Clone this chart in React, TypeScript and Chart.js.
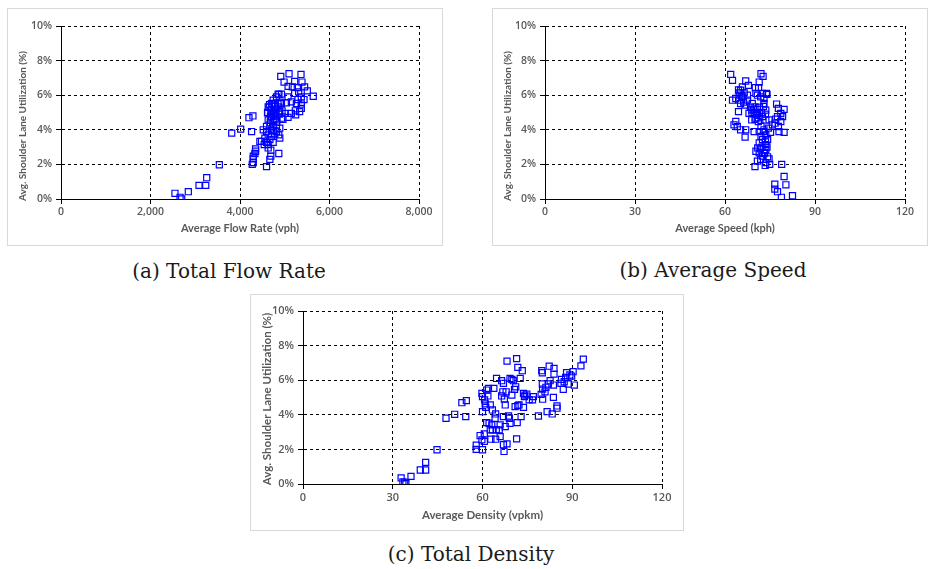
import React, { useEffect, useRef } from "react";
import { Chart, registerables } from "chart.js";

Chart.register(...registerables);

// ---------- data ----------
const utilTicks = [0, 2, 4, 6, 8, 10];

const flowRatePoints: [number, number][] = [
  [2547, 0.33], [2660, 0.1], [2697, 0.0], [2845, 0.42], [3084, 0.79], [3234, 0.79], [3256, 1.23], [3538, 1.98],
  [3815, 3.81], [4015, 4.04], [4259, 3.9], [4200, 4.7], [4289, 4.8],
  [4911, 7.09], [5096, 7.24], [5363, 7.2], [4985, 6.76], [5074, 6.51], [5222, 6.8], [5170, 6.48], [5281, 6.44],
  [5444, 6.48], [5385, 6.76], [5504, 6.25], [5637, 5.94], [5311, 6.19], [5222, 6.1], [4852, 6.06], [4926, 6.06],
  [4815, 5.9], [5074, 5.9], [5370, 5.9], [5296, 5.75], [5148, 5.62], [5037, 5.56], [5430, 5.75], [5370, 5.49],
  [5259, 5.52], [5370, 5.24], [5237, 5.1], [5333, 5.05], [5148, 4.95], [5244, 4.86], [5074, 4.72], [5000, 4.95],
  [4926, 4.67], [4815, 4.57], [4704, 5.52], [4630, 5.33], [4689, 5.14], [4615, 4.99], [4741, 5.71], [4778, 5.43],
  [4852, 5.33], [4926, 5.52], [4889, 5.05], [4778, 4.95], [4704, 4.76], [4630, 4.57], [4741, 4.48], [4667, 4.29],
  [4593, 4.19], [4815, 4.29], [4889, 4.1], [4519, 4.0], [4593, 3.9], [4704, 4.0], [4815, 3.9], [4867, 3.71],
  [4889, 3.52], [4778, 3.77], [4630, 3.71], [4556, 3.52], [4667, 3.43], [4593, 3.27], [4481, 3.33], [4741, 3.27],
  [4630, 3.14], [4444, 3.33], [4348, 2.9], [4348, 2.76], [4333, 2.63], [4296, 2.48], [4296, 2.32], [4274, 2.0],
  [4296, 2.1], [4593, 1.87], [4667, 2.29], [4689, 2.48], [4689, 2.82], [4867, 2.63], [4630, 2.95], [4541, 3.14],
  [4650, 5.3], [4700, 5.1], [4720, 4.9], [4760, 4.6], [4800, 5.2], [4680, 4.4], [4740, 4.2], [4790, 4.8],
  [4660, 5.45], [4850, 5.5], [4880, 4.9], [4900, 5.6], [4720, 5.5], [4620, 5.0], [4680, 4.75], [4760, 5.35],
  [4820, 4.45], [4940, 5.1], [4960, 4.6], [4870, 6.05], [4750, 3.95], [4700, 3.6],
];

const speedPoints: [number, number][] = [
  [61.9, 7.2], [62.5, 6.86], [72.0, 7.24], [72.7, 7.09], [71.4, 6.76], [66.9, 6.82], [67.8, 6.57], [65.8, 6.48],
  [65.2, 6.29], [64.7, 6.13], [66.4, 6.13], [70.3, 6.1], [71.2, 6.44], [70.1, 6.44], [72.5, 6.1], [73.8, 6.1],
  [71.9, 5.9], [63.6, 5.81], [64.7, 5.71], [62.5, 5.71], [65.6, 5.9], [67.5, 5.71], [65.2, 5.52], [66.7, 5.43],
  [64.5, 5.05], [69.1, 5.52], [70.0, 5.33], [70.8, 5.18], [68.9, 5.14], [68.0, 4.95], [69.7, 4.95], [71.4, 4.95],
  [73.0, 5.52], [73.6, 5.14], [72.5, 4.76], [70.3, 4.67], [68.9, 4.57], [71.1, 4.48], [73.6, 4.57], [74.7, 4.57],
  [77.2, 5.49], [77.8, 5.24], [79.7, 5.18], [78.6, 4.95], [77.5, 4.76], [79.2, 4.76], [76.9, 4.61], [76.7, 4.38],
  [78.6, 4.48], [77.8, 4.19], [75.8, 4.29], [63.6, 4.48], [63.0, 4.29], [64.1, 4.19], [65.2, 4.0], [66.9, 4.0],
  [66.7, 3.58], [69.7, 3.9], [71.4, 3.9], [73.0, 4.0], [74.5, 4.1], [75.2, 3.85], [79.7, 3.85], [78.0, 3.9],
  [72.0, 3.62], [73.6, 3.71], [72.5, 3.43], [71.4, 3.24], [74.2, 3.43], [73.6, 3.14], [72.3, 3.0], [70.9, 2.95],
  [73.6, 2.86], [73.0, 2.63], [71.4, 2.67], [70.3, 2.76], [72.5, 2.48], [74.2, 2.44], [71.9, 2.29], [70.8, 2.19],
  [73.6, 2.1], [74.7, 2.32], [73.4, 1.94], [70.0, 1.87], [74.9, 2.0], [78.9, 2.0],
  [79.7, 1.3], [76.6, 0.86], [80.3, 0.82], [76.6, 0.57], [77.5, 0.42], [78.8, 0.1], [82.5, 0.19],
  [69.5, 5.2], [70.5, 4.9], [71.5, 5.3], [72.2, 5.0], [70.0, 4.6], [71.0, 4.7], [68.5, 5.3], [69.0, 5.0],
  [72.8, 5.35], [73.5, 4.9], [67.5, 6.0], [66.0, 5.9], [65.0, 6.0], [64.5, 6.3], [66.2, 5.6], [70.8, 6.0],
  [74.0, 6.05], [73.0, 5.8], [72.0, 4.2], [72.8, 3.9], [73.5, 3.3], [71.8, 2.9], [73.2, 2.7], [74.0, 3.0],
];

const densityPoints: [number, number][] = [
  [32.8, 0.35], [33.4, 0.12], [34.0, 0.1], [34.4, 0.02], [36.1, 0.44], [39.2, 0.81], [41.0, 0.81], [41.0, 1.25],
  [44.8, 1.98], [47.8, 3.8], [50.7, 4.03], [54.4, 3.9], [53.1, 4.7], [54.6, 4.82], [60.0, 1.98], [57.9, 2.25],
  [57.9, 2.0], [59.2, 2.8], [59.8, 2.55], [60.6, 2.46], [60.6, 2.9], [60.0, 4.18], [59.8, 5.24], [60.0, 5.05],
  [60.7, 4.86], [60.9, 4.63], [61.1, 4.43], [61.4, 5.43], [61.8, 5.09], [62.0, 5.53], [62.6, 4.57], [61.4, 3.55],
  [62.2, 3.51], [63.1, 3.42], [63.3, 4.28], [62.8, 2.59], [62.6, 3.13], [63.3, 3.13], [64.2, 3.8], [64.4, 4.05],
  [64.6, 3.13], [63.8, 5.53], [64.7, 6.1], [64.4, 2.59], [65.6, 3.13], [65.9, 2.74], [65.9, 3.42], [66.4, 5.09],
  [66.4, 5.97], [67.0, 5.82], [66.8, 5.33], [67.3, 4.9], [67.6, 4.57], [67.0, 3.9], [67.0, 2.27], [67.2, 1.88],
  [67.6, 3.32], [67.9, 5.33], [68.2, 2.32], [68.2, 7.1], [68.7, 3.93], [69.0, 3.8], [69.2, 3.51], [69.2, 6.1],
  [69.8, 6.05], [70.3, 5.97], [69.8, 5.14], [70.7, 5.47], [70.9, 4.47], [71.1, 5.62], [71.4, 7.25], [71.8, 6.74],
  [71.8, 4.53], [72.2, 4.57], [71.6, 3.55], [71.4, 2.61], [72.6, 6.1], [72.9, 3.9], [73.3, 6.55], [73.7, 5.24],
  [73.7, 4.43], [74.0, 5.05], [74.2, 5.14], [74.8, 5.2], [75.6, 4.86], [76.7, 4.86], [77.0, 5.05], [78.7, 3.93],
  [79.6, 5.18], [79.8, 6.55], [80.0, 5.78], [80.1, 4.9], [80.1, 5.49], [80.9, 5.33], [81.2, 5.59], [81.6, 4.18],
  [82.0, 5.78], [82.3, 6.81], [82.6, 5.97], [83.3, 4.05], [83.7, 5.72], [83.7, 5.01], [83.9, 6.68], [83.9, 6.35],
  [84.9, 4.38], [84.9, 4.51], [86.2, 5.82], [86.4, 6.05], [87.0, 5.47], [87.3, 5.91], [87.8, 6.16], [88.1, 6.43],
  [88.7, 5.78], [89.2, 6.3], [89.8, 6.24], [90.3, 6.49], [90.7, 5.72], [92.9, 6.83], [93.7, 7.22], [80.0, 6.43],
];

const flowTicks = [0, 2000, 4000, 6000, 8000];
const speedTicks = [0, 30, 60, 90, 120];
const densityTicks = [0, 30, 60, 90, 120];

const yTitleText = "Avg. Shoulder Lane Utilization (%)";

// ---------- chart panel ----------
const TITLE_FONT = "Lato, 'Open Sans', sans-serif";
const TICK_FONT = "'Open Sans', Lato, sans-serif";
const GRAY = "#595959";

type PanelProps = {
  left: number; top: number; width: number; height: number;
  points: [number, number][];
  xTicks: number[];
  xTitle: string;
  thousands: boolean;
  tickSize: number;
  xTitleSize: number;
  yTitleSize: number;
  yTitleX: number; yTitleY: number;
  plotLeft: number; plotTop: number; plotRight: number; xAxisH: number;
  xTitlePad: number;
};

function Panel(p: PanelProps) {
  const ref = useRef<HTMLCanvasElement | null>(null);
  useEffect(() => {
    if (!ref.current) return;
    const tickFont = { family: TICK_FONT, size: p.tickSize, weight: "600" as any };
    const xTitleFont = { family: TITLE_FONT, size: p.xTitleSize, weight: "bold" as const };
    const yTitlePlugin = {
      id: "yTitle",
      afterDraw(chart: any) {
        const ctx = chart.ctx;
        ctx.save();
        ctx.translate(p.yTitleX, p.yTitleY);
        ctx.rotate(-Math.PI / 2);
        ctx.font = `bold ${p.yTitleSize}px ${TITLE_FONT}`;
        ctx.fillStyle = GRAY;
        ctx.textAlign = "center";
        ctx.textBaseline = "middle";
        ctx.fillText(yTitleText, 0, 0);
        ctx.restore();
      },
    };
    const chart = new Chart(ref.current, {
      type: "scatter",
      data: {
        datasets: [
          {
            data: p.points.map(([x, y]) => ({ x, y })),
            pointStyle: "rect",
            pointRadius: 4.3,
            pointBorderWidth: 1.2,
            borderColor: "#0000ff",
            backgroundColor: "rgba(0,0,0,0)",
          },
        ],
      },
      options: {
        animation: false,
        responsive: false,
        maintainAspectRatio: false,
        layout: { padding: { left: 0, top: p.plotTop, right: p.plotRight, bottom: 0 } },
        plugins: { legend: { display: false }, tooltip: { enabled: false } },
        scales: {
          x: {
            type: "linear",
            min: p.xTicks[0],
            max: p.xTicks[p.xTicks.length - 1],
            afterBuildTicks: (s: any) => { s.ticks = p.xTicks.map((v) => ({ value: v })); },
            ticks: {
              color: GRAY,
              font: tickFont,
              padding: 2,
              maxRotation: 0,
              callback: (v: any) => (p.thousands ? Number(v).toLocaleString("en-US") : String(v)),
            },
            grid: { color: "#000", lineWidth: 1, tickLength: 5, tickColor: "#000", tickBorderDash: [] },
            border: { color: "#000", width: 1, dash: [3, 3] },
            title: { display: true, text: p.xTitle, color: GRAY, font: xTitleFont, padding: { top: 0, bottom: p.xTitlePad } },
            afterFit: (s: any) => { s.height = p.xAxisH; },
          },
          y: {
            type: "linear",
            min: 0,
            max: 10,
            afterBuildTicks: (s: any) => { s.ticks = utilTicks.map((v) => ({ value: v })); },
            ticks: { color: GRAY, font: tickFont, padding: 4, callback: (v: any) => `${v}%` },
            grid: { color: "#000", lineWidth: 1, tickLength: 5, tickColor: "#000", tickBorderDash: [] },
            border: { color: "#000", width: 1, dash: [3, 3] },
            afterFit: (s: any) => { s.width = p.plotLeft; },
          },
        },
      } as any,
      plugins: [yTitlePlugin],
    });
    return () => chart.destroy();
  }, []);
  return (
    <div
      style={{
        position: "absolute",
        left: p.left,
        top: p.top,
        width: p.width,
        height: p.height,
        border: "1px solid #d9d9d9",
        boxSizing: "border-box",
        background: "#fff",
      }}
    >
      <canvas ref={ref} width={p.width - 2} height={p.height - 2} style={{ display: "block" }} />
    </div>
  );
}

function Caption({ text, cx, cy }: { text: string; cx: number; cy: number }) {
  return (
    <div
      style={{
        position: "absolute",
        left: cx - 200,
        width: 400,
        top: cy - 14,
        height: 28,
        lineHeight: "28px",
        textAlign: "center",
        fontFamily: "'DejaVu Serif', 'Liberation Serif', serif",
        fontSize: 20,
        color: "#1a1a1a",
      }}
    >
      {text}
    </div>
  );
}

export default function App() {
  return (
    <div style={{ position: "fixed", left: 0, top: 0, width: 931, height: 569, background: "#fff", overflow: "hidden" }}>
      <Panel
        left={7} top={8} width={436} height={238}
        points={flowRatePoints} xTicks={flowTicks} xTitle="Average Flow Rate (vph)" thousands
        tickSize={10.5} xTitleSize={11} yTitleSize={10}
        yTitleX={15} yTitleY={117}
        plotLeft={53} plotTop={17} plotRight={23} xAxisH={46} xTitlePad={10}
      />
      <Panel
        left={492} top={8} width={436} height={238}
        points={speedPoints} xTicks={speedTicks} xTitle="Average Speed (kph)" thousands={false}
        tickSize={10.5} xTitleSize={11} yTitleSize={10}
        yTitleX={15} yTitleY={117}
        plotLeft={52} plotTop={17} plotRight={22} xAxisH={46} xTitlePad={10}
      />
      <Panel
        left={250} top={294} width={434} height={237}
        points={densityPoints} xTicks={densityTicks} xTitle="Average Density (vpkm)" thousands={false}
        tickSize={11} xTitleSize={11.5} yTitleSize={11.5}
        yTitleX={16} yTitleY={104}
        plotLeft={52} plotTop={16} plotRight={21} xAxisH={46} xTitlePad={8}
      />
      <Caption text="(a) Total Flow Rate" cx={229} cy={271} />
      <Caption text="(b) Average Speed" cx={713} cy={270} />
      <Caption text="(c) Total Density" cx={471} cy={554} />
    </div>
  );
}
